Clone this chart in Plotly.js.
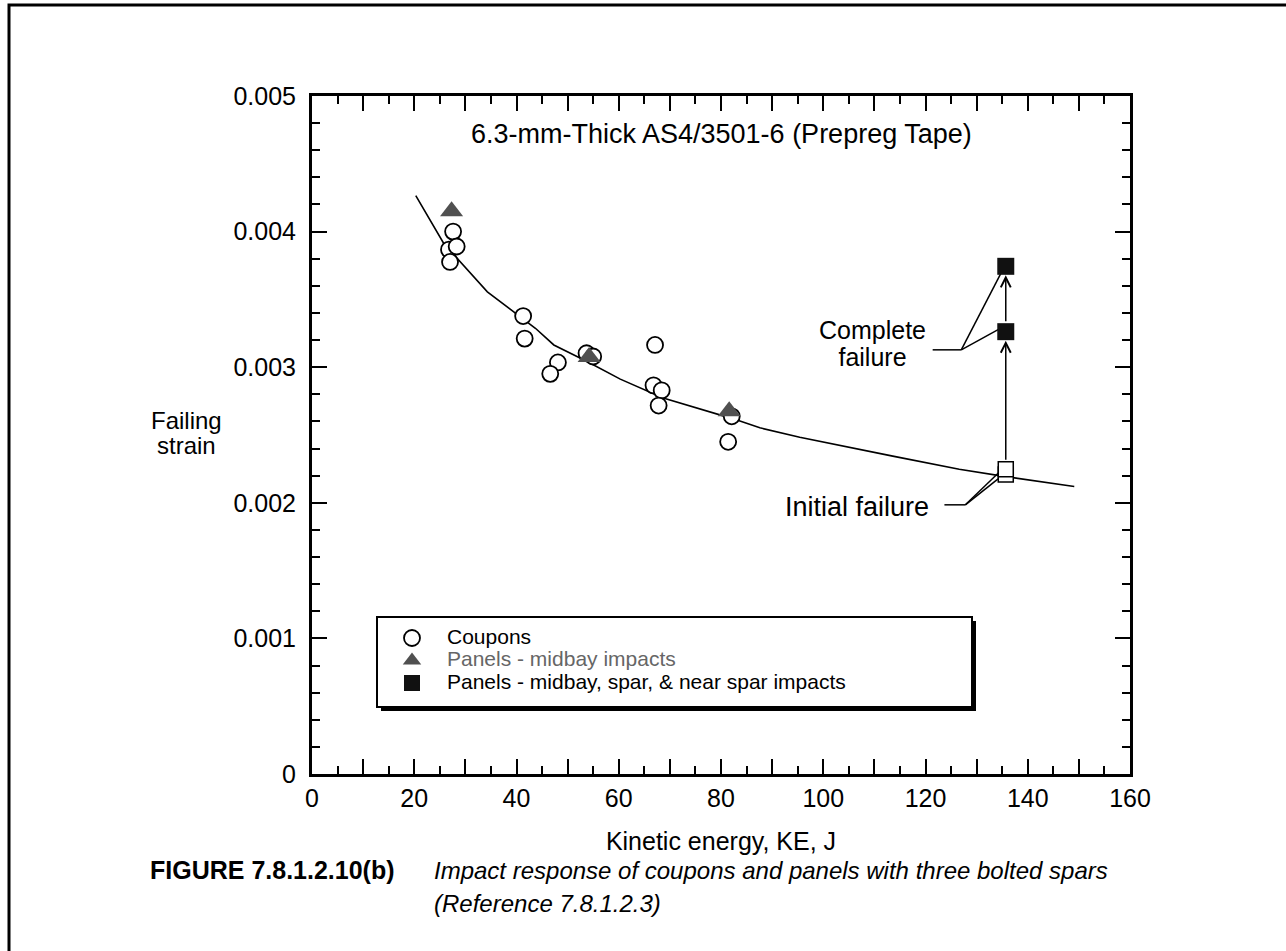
<!DOCTYPE html>
<html>
<head>
<meta charset="utf-8">
<script src="https://cdn.plot.ly/plotly-3.0.1.min.js"></script>
<style>
html,body{margin:0;padding:0;background:#fff;}
#chart{width:1286px;height:951px;}
</style>
</head>
<body>
<div id="chart"></div>
<script>
// ---------------- data ----------------
const couponKE     = [27.6, 26.8, 28.3, 27.0, 41.3, 41.6, 48.1, 46.6, 53.7, 55.0, 67.1, 66.8, 68.4, 67.8, 82.1, 81.4];
const couponStrain = [0.00400, 0.003867, 0.00389, 0.003776, 0.003377, 0.003211, 0.003035, 0.002951, 0.003103, 0.003079, 0.003164, 0.002866, 0.002829, 0.002717, 0.002638, 0.00245];

const midbayKE     = [27.3, 54.2, 81.6];
const midbayStrain = [0.00415, 0.003075, 0.002676];

const initialKE     = [135.7, 135.7];
const initialStrain = [0.002208, 0.002247];

const completeKE     = [135.7, 135.7];
const completeStrain = [0.003262, 0.003744];

const fitKE     = [20.3, 25.8, 34.3, 43.7, 47.3, 53.8, 60.3, 68.7, 82.4, 87.6, 95.4, 100.6, 113.6, 126.6, 135.7, 149.1];
const fitStrain = [0.004266, 0.003911, 0.003556, 0.003287, 0.003164, 0.003042, 0.002912, 0.002773, 0.002619, 0.002553, 0.002484, 0.002443, 0.002344, 0.002247, 0.002193, 0.00212];

const seriesNames = ['Coupons', 'Panels - midbay impacts', 'Panels - midbay, spar, & near spar impacts'];

const xTickVals = [0, 10, 20, 30, 40, 50, 60, 70, 80, 90, 100, 110, 120, 130, 140, 150, 160];
const xTickText = ['0', '', '20', '', '40', '', '60', '', '80', '', '100', '', '120', '', '140', '', '160'];
const yTickVals = [0, 0.001, 0.002, 0.003, 0.004, 0.005];
const yTickText = ['0', '0.001', '0.002', '0.003', '0.004', '0.005'];

// callout leader lines (data coordinates): start -> joint, joint -> target 1, joint -> target 2
const completeLeaderKE     = [121.4, 127.0, 135.4, 127.0, 135.0];
const completeLeaderStrain = [0.003128, 0.003128, 0.003740, 0.003128, 0.003294];
const initialLeaderKE      = [123.7, 127.8, 134.3, 127.8, 134.75];
const initialLeaderStrain  = [0.001985, 0.001985, 0.002222, 0.001985, 0.002193];

const chartTitle = '6.3-mm-Thick AS4/3501-6 (Prepreg Tape)';
const xTitle = 'Kinetic energy, KE, J';
const yTitleLines = ['Failing', 'strain'];
const completeLines = ['Complete', 'failure'];
const initialLabel = 'Initial failure';
const captionLabel = 'FIGURE 7.8.1.2.10(b)';
const captionText = ['Impact response of coupons and panels with three bolted spars', '(Reference 7.8.1.2.3)'];

// ---------------- layout helpers ----------------
const W = 1286, H = 951;
const M = {l: 312, r: 156, t: 96, b: 177};
const PW = W - M.l - M.r, PH = H - M.t - M.b;
const px = x => (x - M.l) / PW;
const py = y => (H - M.b - y) / PH;
const FONT = 'Liberation Sans, Arial, Helvetica, sans-serif';
const BLACK = '#000000';
const sized = (s, size, color) => '<span style="font-size:' + size + 'px' + (color ? ';color:' + color : '') + '">' + s + '</span>';

// legend: glyph size and row pitch
const LEGEND_GLYPH = 21;
const LEGEND_ROW = 22.5;
const LEGEND_LINE = (LEGEND_ROW - 3) / 1.3;

const traces = [
  {
    x: fitKE, y: fitStrain, type: 'scatter', mode: 'lines',
    line: {color: BLACK, width: 1.6}, showlegend: false, hoverinfo: 'skip'
  },
  {
    x: couponKE, y: couponStrain, type: 'scatter', mode: 'markers',
    name: sized(seriesNames[0], LEGEND_GLYPH),
    marker: {symbol: 'circle', size: 16, color: '#ffffff', line: {color: BLACK, width: 1.8}}
  },
  {
    x: midbayKE, y: midbayStrain, type: 'scatter', mode: 'markers',
    name: sized(seriesNames[1], LEGEND_GLYPH, '#666666'),
    marker: {symbol: 'triangle-up', size: 20, color: '#505050', line: {width: 0}}
  },
  {
    x: initialKE, y: initialStrain, type: 'scatter', mode: 'markers', showlegend: false,
    marker: {symbol: 'square', size: 15, color: '#ffffff', line: {color: BLACK, width: 1.5}}
  },
  {
    x: completeKE, y: completeStrain, type: 'scatter', mode: 'markers',
    name: sized(seriesNames[2], LEGEND_GLYPH),
    marker: {symbol: 'square', size: 17, color: '#111111', line: {width: 0}}
  }
];

function leaderShapes(xs, ys) {
  const out = [];
  for (let i = 0; i + 1 < xs.length; i += 1) {
    if (i === 2) continue;
    out.push({type: 'line', xref: 'x', yref: 'y', x0: xs[i], y0: ys[i], x1: xs[i + 1], y1: ys[i + 1],
              line: {color: BLACK, width: 1.5}, layer: 'below'});
  }
  return out;
}

// legend frame with drop shadow (pixel box of the reference legend)
const LB = {l: 377, t: 617, r: 972, b: 707, shadow: 4};

const shapes = [
  {type: 'path', xref: 'paper', yref: 'paper', layer: 'above',
   path: `M${px(9)},${py(960)} L${px(9)},${py(5)} L${px(1295)},${py(5)}`,
   line: {color: BLACK, width: 3}},
  {type: 'rect', xref: 'paper', yref: 'paper', layer: 'above',
   x0: px(LB.l + LB.shadow), x1: px(LB.r + LB.shadow), y0: py(LB.t + LB.shadow), y1: py(LB.b + LB.shadow),
   fillcolor: BLACK, line: {width: 0}},
  {type: 'rect', xref: 'paper', yref: 'paper', layer: 'above',
   x0: px(LB.l), x1: px(LB.r), y0: py(LB.t), y1: py(LB.b),
   fillcolor: '#ffffff', line: {color: BLACK, width: 2}}
].concat(leaderShapes(completeLeaderKE, completeLeaderStrain))
 .concat(leaderShapes(initialLeaderKE, initialLeaderStrain));

const textFont = s => ({family: FONT, size: s, color: BLACK});

const annotations = [
  {text: chartTitle, xref: 'paper', yref: 'paper', x: px(721), y: py(134), xanchor: 'center', yanchor: 'middle', showarrow: false, font: textFont(27)},
  {text: sized(yTitleLines[0], 24) + '<br>' + sized(yTitleLines[1], 24), xref: 'paper', yref: 'paper', x: px(186), y: py(433), xanchor: 'center', yanchor: 'middle', showarrow: false, font: textFont(25 / 1.3)},
  {text: sized(completeLines[0], 25) + '<br>' + sized(completeLines[1], 25), xref: 'paper', yref: 'paper', x: px(872), y: py(343), xanchor: 'center', yanchor: 'middle', showarrow: false, font: textFont(26.5 / 1.3)},
  {text: initialLabel, xref: 'paper', yref: 'paper', x: px(931), y: py(507), xanchor: 'right', yanchor: 'middle', showarrow: false, font: textFont(27)},
  // arrows between failure stages
  {text: '', xref: 'x', yref: 'y', axref: 'x', ayref: 'y',
   x: completeKE[0], y: completeStrain[0], ax: initialKE[1], ay: initialStrain[1],
   showarrow: true, arrowhead: 5, arrowsize: 1.3, arrowwidth: 1.5, arrowcolor: BLACK, standoff: 9, startstandoff: 8},
  {text: '', xref: 'x', yref: 'y', axref: 'x', ayref: 'y',
   x: completeKE[1], y: completeStrain[1], ax: completeKE[0], ay: completeStrain[0],
   showarrow: true, arrowhead: 5, arrowsize: 1.3, arrowwidth: 1.5, arrowcolor: BLACK, standoff: 9, startstandoff: 9},
  // caption
  {text: '<b>' + captionLabel + '</b>', xref: 'paper', yref: 'paper', x: px(148), y: py(870), xanchor: 'left', yanchor: 'middle', showarrow: false, font: textFont(25)},
  {text: '<i>' + captionText[0] + '</i>', xref: 'paper', yref: 'paper', x: px(432), y: py(870), xanchor: 'left', yanchor: 'middle', showarrow: false, font: textFont(24)},
  {text: '<i>' + captionText[1] + '</i>', xref: 'paper', yref: 'paper', x: px(432), y: py(903), xanchor: 'left', yanchor: 'middle', showarrow: false, font: textFont(24)}
];

const axisCommon = {
  ticks: 'inside', ticklen: 15, tickwidth: 2, tickcolor: BLACK,
  showline: true, linewidth: 3, linecolor: BLACK, mirror: 'allticks',
  showgrid: false, zeroline: false, fixedrange: true,
  tickfont: textFont(25), tickmode: 'array'
};

// first legend row centred at y = 638 px
const legendTop = 638 - (5 + LEGEND_ROW / 2);

const layout = {
  width: W, height: H,
  margin: {l: M.l, r: M.r, t: M.t, b: M.b, pad: 0},
  paper_bgcolor: '#ffffff', plot_bgcolor: '#ffffff',
  font: {family: FONT, color: BLACK},
  showlegend: true,
  xaxis: Object.assign({}, axisCommon, {
    range: [0, 160], tickvals: xTickVals, ticktext: xTickText,
    minor: {tickmode: 'linear', tick0: 0, dtick: 5, ticks: 'inside', ticklen: 8, tickwidth: 2, tickcolor: BLACK, showgrid: false},
    title: {text: xTitle, font: textFont(25), standoff: 22}
  }),
  yaxis: Object.assign({}, axisCommon, {
    range: [0, 0.005], tickvals: yTickVals, ticktext: yTickText, ticklabelstandoff: 8,
    minor: {tickmode: 'linear', tick0: 0, dtick: 0.0002, ticks: 'inside', ticklen: 8, tickwidth: 2, tickcolor: BLACK, showgrid: false}
  }),
  legend: {
    orientation: 'h', entrywidthmode: 'pixels', entrywidth: 520, itemwidth: 60,
    x: px(LB.l), y: py(legendTop), xanchor: 'left', yanchor: 'top',
    bgcolor: 'rgba(0,0,0,0)', borderwidth: 0,
    font: textFont(LEGEND_LINE), traceorder: 'normal', itemclick: false, itemdoubleclick: false
  },
  shapes: shapes,
  annotations: annotations
};

Plotly.newPlot('chart', traces, layout, {displayModeBar: false, staticPlot: true});
</script>
</body>
</html>
